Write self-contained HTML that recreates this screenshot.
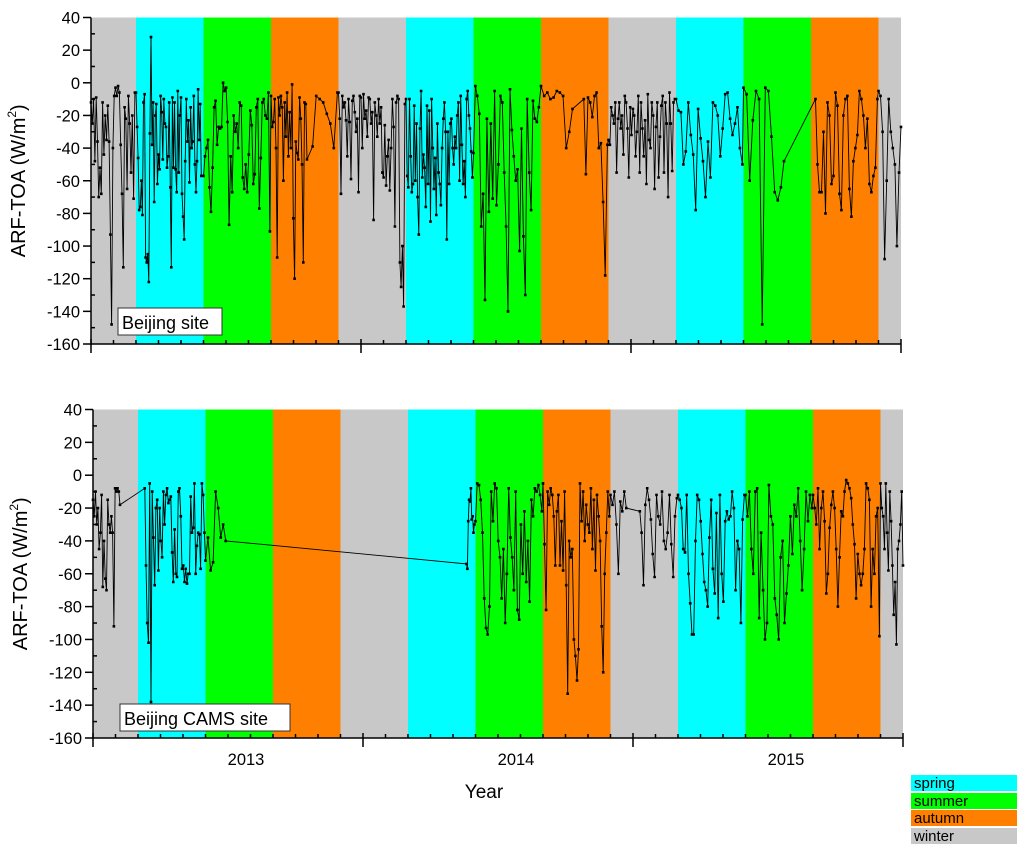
<!DOCTYPE html>
<html><head><meta charset="utf-8"><style>
body{margin:0;background:#fff;}
svg text{font-family:"Liberation Sans",Arial,sans-serif;fill:#000;}
</style></head><body>
<svg id="chart" width="1024" height="857" xmlns="http://www.w3.org/2000/svg"></svg>
<script>
// season bands in months from Jan 2013
const seasonNames = ["winter","spring","summer","autumn","winter","spring","summer","autumn","winter","spring","summer","autumn","winter"];
const seasonStarts = [0,2,5,8,11,14,17,20,23,26,29,32,35];
const seasonEnds = [2,5,8,11,14,17,20,23,26,29,32,35,36];
const yTicks = [40,20,0,-20,-40,-60,-80,-100,-120,-140,-160];
const yearLabels = ["2013","2014","2015"];
// top panel (Beijing site): segments [start month, end month] with values
const topSegStart = [0,2,5,8,9.85,11,14,17,20,21.9,23,26,29,32.2,35];
const topSegEnd = [1.95,4.95,7.95,9.6,10.95,13.95,16.95,19.9,21.4,22.95,25.95,28.95,30.8,34.95,36];
const topVals = [
[-12,-25,-10,-48,-9,-36,-70,-52,-68,-12,-44,-20,-35,-14,-36,-93,-148,-40,-8,-3,-8,-2,-6,-38,-68,-113,-15,-22,-65,-8,-25,-55,-20,-71,-6],
[-6,-27,-46,-78,-76,-60,-81,-12,-7,-107,-110,-105,-122,-31,28,-38,-12,-73,-20,-13,-62,-44,-53,-8,-18,-47,-10,-25,-27,-52,-45,-12,-64,-113,-9,-52,-12,-53,-67,-5,-55,-20,-9,-68,-82,-96,-48,-10,-36,-23,-61,-15,-40,-36,-8,-50,-67,-48,-4,-35,-13,-57,-57],
[-57,-45,-40,-35,-64,-79,-52,-15,-11,-38,-27,-28,-27,0,-5,-3,-24,-87,-45,-67,-20,-30,-25,-40,-12,-14,-58,-65,-50,-67,-44,-17,-26,-62,-56,-15,-10,-77,-46,-12,-10,-20,-22,-6,-91],
[-8,-27,-24,-10,-40,-107,-9,-20,-8,-15,-60,-12,-33,-6,-45,-18,-40,-1,-83,-120,-36,-43,-47,-9,-22,-50,-110,-12,-13,-47],
[-39,-8,-10,-12,-19,-25,-40,-6],
[-6,-22,-68,-8,-15,-12,-23,-45,-10,-24,-59,-11,-8,-18,-30,-22,-67,-8,-9,-40,-7,-22,-17,-33,-9,-10,-25,-18,-84,-12,-20,-33,-10,-25,-15,-55,-58,-26,-63,-45,-35,-66,-40,-10,-27,-88,-12,-8,-10,-110,-125,-100,-137,-13],
[-10,-57,-64,-10,-45,-67,-62,-14,-60,-25,-70,-93,-28,-5,-58,-44,-52,-76,-14,-62,-17,-85,-10,-40,-65,-46,-81,-25,-55,-62,-75,-40,-22,-12,-30,-96,-30,-62,-25,-22,-40,-50,-33,-40,-20,-12,-60,-8,-38,-62,-48,-70,-10,-5,-20,-28,-42,-58],
[-43,-2,-8,-19,-88,-68,-133,-22,-79,-25,-71,-5,-75,-50,-8,-12,-55,-88,-140,-4,-29,-45,-60,-53,-103,-28,-94,-130,-10,-55,-78,-11,-22,-24,-15],
[-2,-8,-6,-10,-9,-5,-6,-8,-40,-30,-16],
[-10,-56,-9,-12,-21,-8,-6,-40,-37,-73,-118,-38],
[-35,-38,-15,-20,-25,-12,-55,-22,-12,-28,-20,-44,-8,-12,-28,-58,-15,-32,-16,-20,-45,-30,-8,-55,-12,-28,-45,-23,-62,-7,-35,-40,-12,-20,-65,-27,-12,-58,-33,-14,-8,-55,-12,-25,-70,-6,-25,-54,-12,-10],
[-10,-17,-18,-50,-42,-12,-32,-44,-78,-16,-34,-48,-70,-36,-58,-12,-14,-20,-45,-28,-7,-6,-22,-32,-25,-15,-40,-50],
[-3,-7,-60,-23,-5,-10,-148,-3,-5,-33,-67,-72,-64,-48],
[-10,-50,-67,-67,-30,-80,-12,-20,-62,-57,-6,-14,-68,-78,-20,-10,-8,-65,-82,-48,-40,-32,-5,-10,-20,-40,-22,-62,-67,-57,-52,-10],
[-5,-8,-30,-108,-60,-10,-30,-40,-50,-100,-55,-27]
];
// bottom panel (Beijing CAMS site)
const botSegStart = [0,2.3,5.0,16.6,17.0,20,23,24.3,26,29,32,35];
const botSegEnd = [1.2,4.95,5.9,16.95,19.95,22.95,23.7,25.95,28.95,31.95,34.95,36];
const botVals = [
[-15,-25,-10,-30,-20,-45,-35,-12,-68,-40,-63,-70,-15,-30,-35,-25,-35,-92,-8,-10,-8,-10,-18],
[-8,-55,-90,-102,-5,-138,-10,-38,-67,-20,-15,-58,-20,-40,-50,-10,-30,-12,-8,-17,-15,-13,-47,-65,-33,-60,-62,-10,-8,-25,-57,-55,-65,-57,-66,-60,-60,-13,-35,-32,-5,-60,-43,-35,-36,-57,-5,-12,-35],
[-52,-38,-58,-53,-10,-20,-38,-30,-40],
[-54,-57,-28,-15,-16,-8,-27,-25,-35,-30],
[-28,-5,-6,-15,-35,-75,-93,-97,-80,-10,-28,-5,-8,-40,-50,-75,-45,-90,-60,-8,-38,-50,-70,-10,-82,-88,-30,-60,-22,-65,-40,-77,-15,-25,-8,-10,-6,-12,-22],
[-5,-42,-82,-10,-18,-8,-12,-25,-55,-22,-12,-55,-28,-58,-10,-67,-133,-40,-50,-45,-100,-110,-125,-106,-5,-28,-10,-40,-18,-30,-35,-8,-45,-15,-58,-12,-25,-40,-92,-120,-60,-35,-10,-25],
[-12,-18,-10,-30,-60,-16,-22,-10,-20],
[-22,-35,-67,-18,-8,-15,-27,-48,-62,-12,-25,-30,-10,-40,-45,-35,-12,-42,-62,-25,-14],
[-12,-15,-20,-45,-47,-12,-60,-78,-97,-97,-40,-12,-15,-28,-48,-65,-70,-80,-38,-15,-57,-72,-23,-87,-12,-60,-77,-28,-22,-27,-25,-10,-20,-70,-40,-45,-90,-27,-12],
[-12,-25,-10,-45,-60,-10,-8,-87,-35,-70,-100,-90,-6,-25,-30,-75,-85,-100,-50,-40,-90,-72,-55,-25,-48,-18,-25,-8,-40,-70,-45,-10,-28,-12,-20],
[-12,-20,-30,-8,-45,-20,-10,-28,-72,-60,-32,-18,-10,-20,-45,-80,-50,-22,-25,-10,-3,-5,-8,-14,-30,-42,-75,-48,-60,-67,-60,-45,-5,-8,-15,-80,-45,-60,-25,-20,-98],
[-5,-20,-25,-45,-5,-35,-58,-10,-28,-55,-85,-65,-103,-45,-40,-30,-10,-55]
];
const colors = {spring:"#00ffff",summer:"#00ff00",autumn:"#ff8000",winter:"#c8c8c8"};
const NS="http://www.w3.org/2000/svg";
const svg=document.getElementById('chart');
function mk(tag,attrs,parent){const e=document.createElementNS(NS,tag);for(const k in attrs)e.setAttribute(k,attrs[k]);(parent||svg).appendChild(e);return e;}

function panel(cfg){
  const g=mk('g',{});
  
  
  const x=m=>cfg.x0+m*22.5;
  const y=v=>cfg.y40+(40-v)*(cfg.ym160-cfg.y40)/200;
  seasonNames.forEach((s,i)=>{
    const r=mk('rect',{x:x(seasonStarts[i]),y:y(40),width:x(seasonEnds[i])-x(seasonStarts[i]),height:y(-160)-y(40),fill:colors[s]},g);
    
    
  });
  let pts=[];
  cfg.starts.forEach((st,i)=>{const vals=cfg.vals[i];const en=cfg.ends[i];vals.forEach((v,j)=>{const t=vals.length>1?st+(en-st)*j/(vals.length-1):st;pts.push([x(t),y(v)]);});});
  const line=mk('polyline',{points:pts.map(p=>p[0].toFixed(1)+','+p[1].toFixed(1)).join(' '),fill:'none',stroke:'#000','stroke-width':0.9},g);
  
  
  let d='';pts.forEach(p=>{d+='M'+(p[0]-1.3).toFixed(1)+' '+(p[1]-1.3).toFixed(1)+'h2.6v2.6h-2.6z';});
  const mkr=mk('path',{d:d,fill:'#000'},g);
  
  
  const ax=mk('g',{stroke:'#000','stroke-width':1.5},g);
  
  
  mk('line',{x1:cfg.x0,y1:y(40),x2:cfg.x0,y2:y(-160)+1},ax);
  yTicks.forEach(v=>{mk('line',{x1:cfg.x0-8,y1:y(v),x2:cfg.x0,y2:y(v)},ax);
    const t=mk('text',{x:cfg.x0-11,y:y(v)+6,'text-anchor':'end','font-size':16.5,stroke:'none'},g);t.textContent=v;
    
    
    if(v>-160)mk('line',{x1:cfg.x0,y1:y(v-10),x2:cfg.x0+4,y2:y(v-10)},ax);});
  const xa=mk('g',{stroke:'#000','stroke-width':1.5},g);
  
  
  mk('line',{x1:cfg.x0,y1:y(-160),x2:x(36),y2:y(-160)},xa);
  for(let m=0;m<=36;m++){
    if(m%12===0)mk('line',{x1:x(m),y1:y(-160)-5,x2:x(m),y2:y(-160)+9},xa);
    else mk('line',{x1:x(m),y1:y(-160)-4,x2:x(m),y2:y(-160)},xa);
  }
  if(cfg.labels)yearLabels.forEach((l,i)=>{const t=mk('text',{x:x(12*i+6.8),y:y(-160)+27,'text-anchor':'middle','font-size':16.5},g);t.textContent=l;
    
    });
  const yt=mk('text',{transform:`translate(${cfg.x0-66},${(y(40)+y(-160))/2}) rotate(-90)`,'text-anchor':'middle','font-size':20},g);
  yt.innerHTML='ARF-TOA (W/m<tspan font-size="12" dy="-9">2</tspan><tspan dy="9">)</tspan>';
  
  
  const lb=mk('rect',{x:cfg.box[0],y:cfg.box[1],width:cfg.box[2],height:27,fill:'#fff',stroke:'#333','stroke-width':1},g);
  
  
  const lt=mk('text',{x:cfg.box[0]+4,y:cfg.box[1]+21,'font-size':18},g);lt.textContent=cfg.title;
  
  
}
panel({name:'beijing-site-panel',x0:91,y40:17.5,ym160:344,starts:topSegStart,ends:topSegEnd,vals:topVals,labels:false,box:[118,308,104],title:'Beijing site'});
panel({name:'beijing-cams-panel',x0:93,y40:409.5,ym160:738,starts:botSegStart,ends:botSegEnd,vals:botVals,labels:true,box:[120,704,170],title:'Beijing CAMS site'});
const xt=mk('text',{x:484,y:798,'text-anchor':'middle','font-size':19});xt.textContent='Year';


const legNames=["spring","summer","autumn","winter"];
const legY=[775,793,810,828];
legNames.forEach((s,i)=>{
  const r=mk('rect',{x:911,y:legY[i],width:106,height:16,fill:colors[s]});
  
  
  const t=mk('text',{x:914,y:legY[i]+13,'font-size':15});t.textContent=s;
  
  
});
</script>
</body></html>
